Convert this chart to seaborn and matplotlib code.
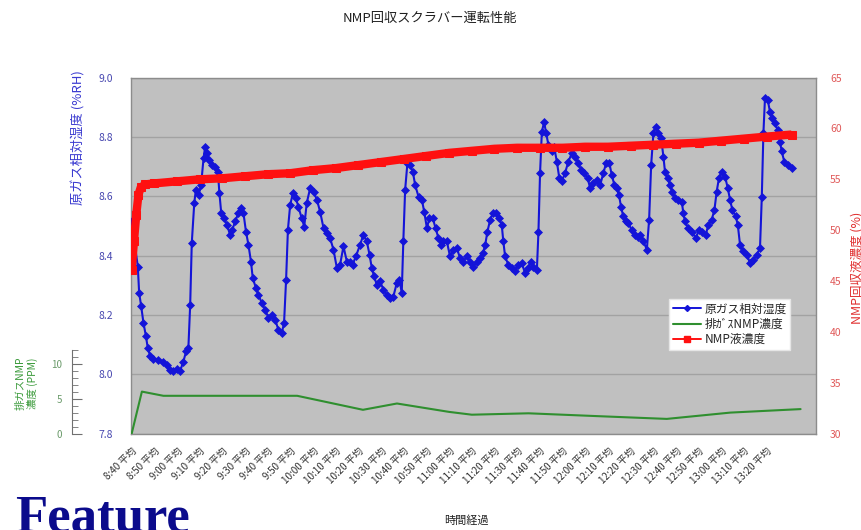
import numpy as np
import pandas as pd
import matplotlib
matplotlib.use("Agg")
import matplotlib.pyplot as plt
from matplotlib.lines import Line2D
from matplotlib.ticker import FixedLocator, FormatStrFormatter
import seaborn as sns

# ---------------- data ----------------
title = "NMP回収スクラバー運転性能"
xlabel = "時間経過"
ylabel_left = "原ガス相対湿度 (%RH)"
ylabel_right = "NMP回収液濃度 (%)"
ylabel_green = "排ガスNMP\n濃度 (PPM)"
series_names = ["原ガス相対湿度", "排ｶﾞｽNMP濃度", "NMP液濃度"]

# tick labels every 10 minutes from 8:40 to 13:20
tick_minutes = list(range(0, 281, 10))
tick_labels = [f"{(8*60+40+m)//60}:{(8*60+40+m)%60:02d} 平均" for m in tick_minutes]

# raw gas relative humidity (%RH), minutes after 8:40
blue_min = [0.1, 1.2, 2.7, 3.3, 4.2, 5.2, 6.3, 7.1, 8.2, 9.6, 11.8, 14.0, 15.5, 17.0, 18.4, 19.9,
            21.4, 22.8, 24.0, 25.0, 25.8, 26.5, 27.6, 28.3, 29.5, 30.6, 31.7, 32.4, 33.2, 34.2,
            35.4, 36.8, 38.0, 38.7, 39.5, 40.9, 42.0, 43.4, 44.4, 45.6, 47.1, 48.3, 49.3, 50.4,
            51.5, 52.6, 53.4, 54.8, 55.9, 57.4, 58.9, 60.3, 61.8, 63.3, 64.7, 66.2, 67.2, 68.1,
            68.9, 69.9, 71.1, 72.4, 73.5, 75.0, 76.1, 77.2, 78.7, 80.2, 81.7, 83.1, 84.6, 86.1,
            87.5, 89.0, 90.5, 91.9, 93.4, 94.9, 96.3, 97.4, 99.0, 100.7, 102.2, 103.7, 104.9,
            105.9, 106.9, 108.1, 109.6, 111.0, 112.5, 114.0, 115.4, 116.9, 118.1, 119.1, 119.8,
            120.6, 121.6, 122.8, 124.0, 125.0, 126.5, 128.0, 129.0, 130.2, 131.3, 132.8, 134.0,
            135.3, 136.3, 137.5, 139.0, 140.4, 141.9, 143.4, 144.8, 146.3, 147.8, 149.3, 150.7,
            152.2, 153.7, 154.9, 155.9, 156.9, 158.1, 159.3, 160.7, 162.2, 163.2, 163.9, 164.7,
            166.1, 167.6, 169.1, 170.5, 172.0, 173.5, 175.0, 176.0, 177.2, 178.7, 179.4, 180.1,
            180.9, 181.9, 182.8, 183.8, 185.3, 186.3, 187.5, 188.6, 189.7, 191.1, 192.6, 194.1,
            195.5, 197.0, 198.2, 199.6, 201.1, 202.2, 203.6, 205.1, 206.6, 208.0, 209.2, 210.7,
            211.7, 212.9, 213.9, 214.9, 215.8, 216.8, 217.9, 219.0, 220.5, 222.0, 223.2, 224.2,
            225.7, 227.2, 228.2, 229.1, 230.1, 231.1, 232.3, 233.5, 234.5, 235.2, 236.4, 237.4,
            238.4, 239.6, 241.1, 242.6, 243.3, 244.0, 245.5, 247.0, 248.8, 250.2, 251.7, 253.2,
            254.3, 255.8, 257.0, 258.0, 259.0, 260.2, 261.7, 262.9, 263.9, 264.9, 266.4, 267.3,
            268.3, 269.8, 271.3, 272.7, 274.2, 275.7, 277.1, 277.9, 278.6, 279.3, 280.5, 281.5,
            282.5, 283.7, 284.9, 285.9, 286.7, 287.8, 289.6, 291.1]
blue_val = [8.515, 8.448, 8.363, 8.274, 8.229, 8.173, 8.128, 8.088, 8.060, 8.053, 8.049, 8.043,
            8.032, 8.015, 8.010, 8.019, 8.012, 8.043, 8.077, 8.088, 8.234, 8.442, 8.577, 8.622,
            8.605, 8.638, 8.728, 8.767, 8.745, 8.722, 8.706, 8.700, 8.683, 8.610, 8.543, 8.526,
            8.504, 8.470, 8.487, 8.515, 8.543, 8.560, 8.543, 8.481, 8.436, 8.380, 8.324, 8.291,
            8.268, 8.240, 8.218, 8.190, 8.201, 8.184, 8.150, 8.139, 8.173, 8.319, 8.487, 8.571,
            8.610, 8.594, 8.565, 8.526, 8.498, 8.577, 8.627, 8.616, 8.588, 8.548, 8.493, 8.476,
            8.459, 8.420, 8.358, 8.369, 8.431, 8.380, 8.380, 8.369, 8.400, 8.436, 8.470, 8.448,
            8.403, 8.358, 8.330, 8.302, 8.313, 8.285, 8.268, 8.257, 8.262, 8.307, 8.319, 8.274,
            8.448, 8.622, 8.711, 8.706, 8.683, 8.638, 8.599, 8.588, 8.548, 8.493, 8.526, 8.526,
            8.493, 8.459, 8.436, 8.448, 8.448, 8.397, 8.420, 8.425, 8.392, 8.380, 8.397, 8.380,
            8.363, 8.380, 8.392, 8.408, 8.436, 8.481, 8.521, 8.543, 8.543, 8.526, 8.504, 8.448,
            8.397, 8.369, 8.358, 8.347, 8.369, 8.375, 8.341, 8.358, 8.380, 8.363, 8.352, 8.481,
            8.678, 8.818, 8.850, 8.812, 8.773, 8.751, 8.767, 8.717, 8.661, 8.650, 8.678, 8.717,
            8.745, 8.734, 8.712, 8.689, 8.678, 8.661, 8.627, 8.644, 8.655, 8.638, 8.678, 8.711,
            8.711, 8.672, 8.638, 8.627, 8.605, 8.565, 8.532, 8.515, 8.509, 8.487, 8.470, 8.464,
            8.470, 8.448, 8.420, 8.521, 8.706, 8.812, 8.835, 8.812, 8.796, 8.734, 8.683, 8.661,
            8.638, 8.616, 8.594, 8.588, 8.582, 8.543, 8.515, 8.493, 8.481, 8.459, 8.487, 8.481,
            8.470, 8.504, 8.521, 8.554, 8.616, 8.661, 8.681, 8.666, 8.627, 8.588, 8.554, 8.532,
            8.504, 8.436, 8.414, 8.403, 8.375, 8.386, 8.403, 8.425, 8.599, 8.812, 8.930, 8.925,
            8.885, 8.863, 8.846, 8.824, 8.784, 8.751, 8.717, 8.706, 8.695]

# exhaust gas NMP concentration (ppm)
green_min = [0, 4.5, 14, 73, 102, 117, 140, 150, 175, 205, 236, 264, 295]
green_val = [0.0, 6.0, 5.4, 5.4, 3.4, 4.3, 3.1, 2.7, 2.9, 2.5, 2.1, 3.0, 3.5]

# NMP liquid concentration (%)
red_min = [0, 1, 2, 3, 4, 6, 10, 20, 30, 40, 50, 60, 70, 80, 90, 100, 110, 120, 130, 140,
           150, 160, 170, 180, 190, 200, 210, 220, 230, 240, 250, 260, 270, 280, 291]
red_val = [46.1, 48.9, 51.5, 53.5, 54.2, 54.5, 54.6, 54.8, 55.0, 55.1, 55.3, 55.5, 55.6, 55.9,
           56.1, 56.4, 56.7, 57.0, 57.3, 57.6, 57.8, 58.0, 58.1, 58.1, 58.1, 58.2, 58.2, 58.3,
           58.4, 58.5, 58.6, 58.8, 59.0, 59.2, 59.4]

left_ticks = [7.8, 8.0, 8.2, 8.4, 8.6, 8.8, 9.0]
right_ticks = [30, 35, 40, 45, 50, 55, 60, 65]
green_ticks = [0, 5, 10]

# ---------------- style ----------------
sns.set_style("white")
plt.rcParams['font.family'] = ['Noto Sans CJK JP', 'DejaVu Sans']
plt.rcParams['axes.unicode_minus'] = False

W, H = 861, 530
fig = plt.figure(figsize=(W / 100, H / 100), dpi=100)
fig.patch.set_facecolor('white')
L, R, T, B = 131, 816, 77.6, 433.6
ax = fig.add_axes([L / W, 1 - B / H, (R - L) / W, (B - T) / H])
ax.set_facecolor('#c0c0c0')
ax2 = ax.twinx()
ax3 = ax.twinx()

blue_c = '#1414d8'
red_c = '#ff1010'
green_c = '#2f8f2f'

sns.lineplot(x=blue_min, y=blue_val, ax=ax, color=blue_c, marker='D', markersize=3.6,
             markeredgecolor=blue_c, markeredgewidth=0.5, linewidth=1.5,
             estimator=None, sort=False, zorder=3)
sns.lineplot(x=green_min, y=green_val, ax=ax3, color=green_c, linewidth=1.5,
             estimator=None, sort=False)
sns.lineplot(x=red_min, y=red_val, ax=ax2, color=red_c, marker='s', markersize=6,
             markeredgecolor=red_c, linewidth=6.0, estimator=None, sort=False,
             solid_capstyle='butt')

# main (left) axis
ax.set_xlim(-0.3, 301.8)
ax.set_ylim(7.8, 9.0)
ax.yaxis.set_major_locator(FixedLocator(left_ticks))
ax.yaxis.set_major_formatter(FormatStrFormatter('%.1f'))
ax.yaxis.grid(True, color='#a2a2a2', linewidth=1.0)
ax.set_axisbelow(True)
ax.tick_params(axis='y', length=0, pad=13, labelsize=7.5, labelcolor='#4848b0')
ax.set_xticks(tick_minutes)
ax.set_xticklabels(tick_labels, rotation=45, ha='right', rotation_mode='anchor',
                   fontsize=7, color='#303030')
ax.tick_params(axis='x', length=0, pad=9)
ax.set_xlabel('')
ax.set_ylabel('')
for s in ax.spines.values():
    s.set_color('#8c8c8c')
    s.set_linewidth(1.0)

# right axis
ax2.set_ylim(30, 65)
ax2.yaxis.set_major_locator(FixedLocator(right_ticks))
ax2.tick_params(axis='y', length=0, pad=10, labelsize=7.5, labelcolor='#e05a5a')
ax2.set_ylabel('')
for s in ax2.spines.values():
    s.set_visible(False)

# green third axis on the far left (spine about 60 px left of the plot)
ax3.set_ylim(0, (B - T) / 7.0)
ax3.yaxis.set_ticks_position('left')
ax3.yaxis.set_label_position('left')
for k in ['right', 'top', 'bottom']:
    ax3.spines[k].set_visible(False)
ax3.spines['left'].set_position(('outward', 59.5 * 0.72))
ax3.spines['left'].set_bounds(0, 12)
ax3.spines['left'].set_color('#707070')
ax3.yaxis.set_major_locator(FixedLocator(green_ticks))
ax3.yaxis.set_minor_locator(FixedLocator(range(0, 13)))
ax3.tick_params(axis='y', which='major', direction='in', length=7, color='#707070',
                labelsize=7, labelcolor='#6a9a6a', pad=7)
ax3.tick_params(axis='y', which='minor', direction='in', length=4.5, color='#707070')
ax3.set_ylabel('')

# legend
handles = [
    Line2D([], [], color=blue_c, marker='D', markersize=3, linewidth=1.4),
    Line2D([], [], color=green_c, linewidth=1.5),
    Line2D([], [], color=red_c, marker='s', markersize=4, linewidth=1.4),
]
leg = ax3.legend(handles, series_names, loc='upper left',
                 bbox_to_anchor=(669 / W, 1 - 299 / H), bbox_transform=fig.transFigure,
                 fontsize=8.5, frameon=True, fancybox=False, framealpha=1,
                 edgecolor='#e6e6e6', handlelength=2.4, handletextpad=0.3,
                 labelspacing=0.2, borderpad=0.3, borderaxespad=0)

# texts
fig.text(430 / W, 1 - 18 / H, title, ha='center', va='center', fontsize=9.5, color='#202020')
fig.text(466 / W, 1 - 521 / H, xlabel, ha='center', va='center', fontsize=8, color='#202020')
fig.text(78 / W, 1 - 70 / H, ylabel_left, rotation=90, ha='center', va='top',
         fontsize=9.5, color='#3a3ad0')
fig.text(27 / W, 1 - 383 / H, ylabel_green, rotation=90, ha='center', va='center',
         fontsize=7.5, color='#3a9a3a', multialignment='center', linespacing=1.1)
fig.text(851 / W, 1 - 268 / H, ylabel_right, rotation=90, ha='left', va='center',
         fontsize=9, color='#e03030')
fig.text(15 / W, 1 - 531 / H, "Feature", ha='left', va='baseline', fontsize=38,
         fontweight='bold', family=['Liberation Serif', 'DejaVu Serif'], color='#0b0b8c')

fig.savefig('out.png', dpi=100, facecolor='white')
